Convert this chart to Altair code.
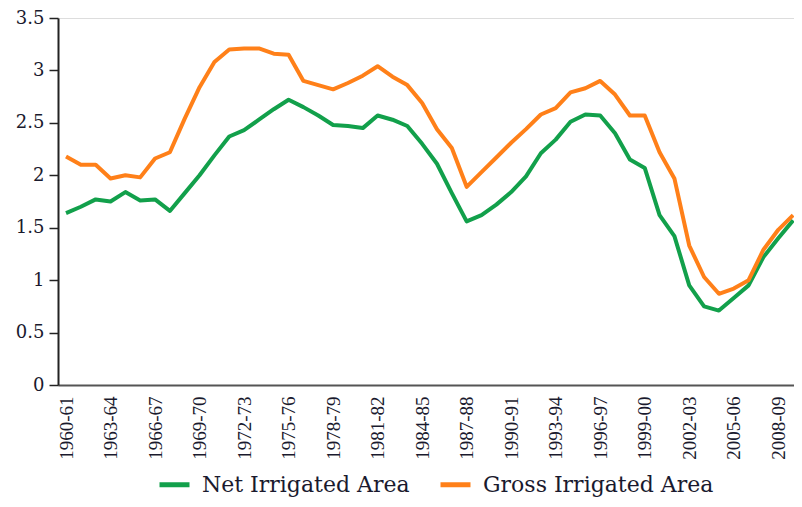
import altair as alt
import pandas as pd

years = list(range(1960, 2010))
net = [1.64, 1.70, 1.77, 1.75, 1.84, 1.76, 1.77, 1.66, 1.83, 2.00,
       2.19, 2.37, 2.43, 2.53, 2.63, 2.72, 2.65, 2.57, 2.48, 2.47,
       2.45, 2.57, 2.53, 2.47, 2.30, 2.11, 1.83, 1.56, 1.62, 1.72,
       1.84, 1.99, 2.21, 2.34, 2.51, 2.58, 2.57, 2.40, 2.15, 2.07,
       1.62, 1.42, 0.95, 0.75, 0.71, 0.83, 0.95, 1.22, 1.40, 1.57]
gross = [2.18, 2.10, 2.10, 1.97, 2.00, 1.98, 2.16, 2.22, 2.54, 2.84,
         3.08, 3.20, 3.21, 3.21, 3.16, 3.15, 2.90, 2.86, 2.82, 2.88,
         2.95, 3.04, 2.94, 2.86, 2.69, 2.44, 2.26, 1.89, 2.03, 2.17,
         2.31, 2.44, 2.58, 2.64, 2.79, 2.83, 2.90, 2.77, 2.57, 2.57,
         2.22, 1.97, 1.33, 1.03, 0.87, 0.92, 1.00, 1.29, 1.48, 1.62]
series_names = ["Net Irrigated Area", "Gross Irrigated Area"]
series_colors = ["#12a04b", "#ff8019"]
x_tick_years = list(range(1960, 2010, 3))
y_ticks = [0, 0.5, 1, 1.5, 2, 2.5, 3, 3.5]

df = pd.DataFrame({
    "year": years + years,
    "value": net + gross,
    "series": [series_names[0]] * len(years) + [series_names[1]] * len(years),
})

text_color = "#1a1a2e"

chart = alt.Chart(df).mark_line(strokeWidth=4, strokeJoin="round", clip=True).encode(
    x=alt.X("year:Q",
            scale=alt.Scale(domain=[1959.46, 2009.06], nice=False, zero=False),
            axis=alt.Axis(values=x_tick_years,
                          labelExpr="toString(datum.value) + '-' + substring(toString(datum.value + 1), 2, 4)",
                          labelAngle=270, ticks=False, grid=False, title=None,
                          labelFont="Liberation Serif", labelFontSize=19, labelPadding=11,
                          labelColor=text_color, domainColor="#555555", domainWidth=2,
                          labelOverlap=False, labelFlush=False, labelBound=False)),
    y=alt.Y("value:Q",
            scale=alt.Scale(domain=[0, 3.5], nice=False, zero=True),
            axis=alt.Axis(values=y_ticks, format="~g", grid=False, title=None,
                          tickSize=9, tickWidth=1.5, tickColor="#222222",
                          domainColor="#222222", domainWidth=2,
                          labelFont="DejaVu Serif", labelFontSize=18, labelPadding=5,
                          labelColor=text_color)),
    color=alt.Color("series:N",
                    scale=alt.Scale(domain=series_names, range=series_colors),
                    sort=series_names,
                    legend=alt.Legend(title=None, orient="none", direction="horizontal",
                                      legendX=99, legendY=449, padding=0,
                                      symbolType="stroke", symbolSize=900, symbolStrokeWidth=5,
                                      labelFont="DejaVu Serif", labelFontSize=22, labelColor=text_color,
                                      labelOffset=10, columnPadding=20, labelLimit=400)),
).properties(
    width=736, height=367,
    padding={"left": 50, "top": 10, "right": 0, "bottom": 114},
    autosize="none",
).configure_view(stroke=None).configure(background="white")

chart.save("out.html", embed_options={"renderer": "svg", "actions": False})
